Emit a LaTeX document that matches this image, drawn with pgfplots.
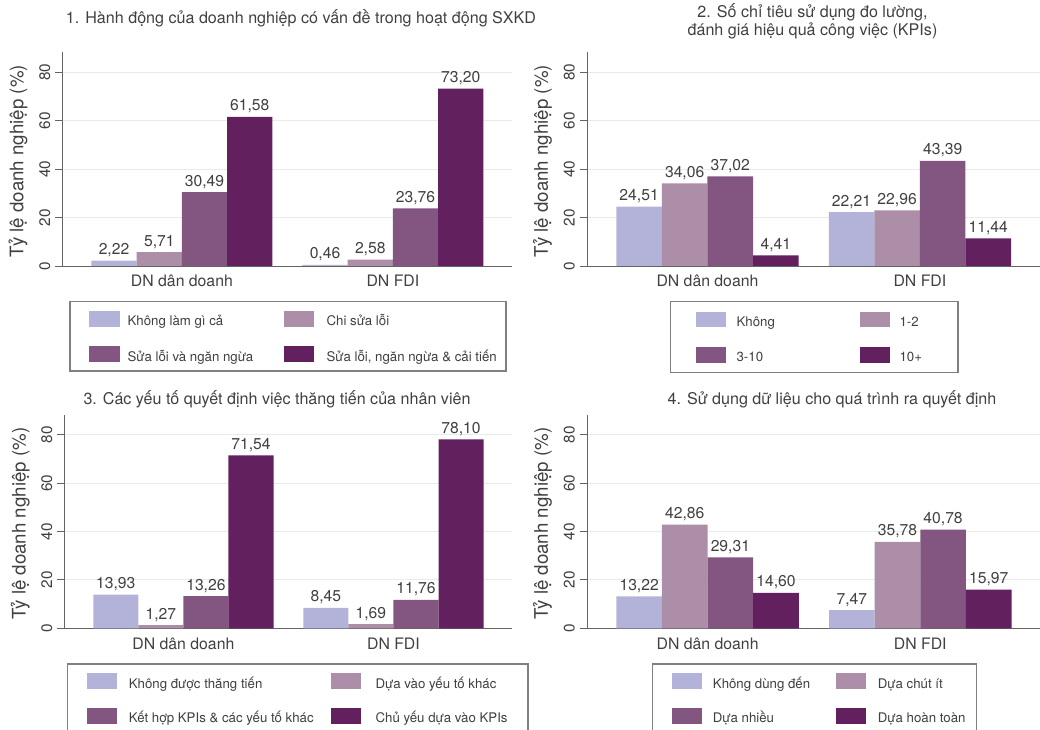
\documentclass[border=0pt]{standalone}
\usepackage{fontspec}
\setmainfont{TeX Gyre Heros}
\usepackage{pgfplots}
\pgfplotsset{compat=1.18}
\definecolor{cA}{RGB}{179,179,218}
\definecolor{cB}{RGB}{173,142,168}
\definecolor{cC}{RGB}{130,86,128}
\definecolor{cD}{RGB}{98,32,94}
\definecolor{txt}{RGB}{64,64,64}
\definecolor{axl}{RGB}{100,100,100}
\definecolor{grd}{RGB}{234,234,234}
\definecolor{lgb}{RGB}{128,128,128}
\newcommand\lgt[3]{\makebox[#1pt][l]{\hspace*{#2pt}\raisebox{0pt}[15.7pt][0pt]{#3}}}
\pgfplotsset{
 panel/.style={
  scale only axis, anchor=south west, clip=false,
  ybar, bar width=0.2145,
  legend image code/.code={\fill[##1] (0pt,-7.85pt) rectangle (30.7pt,7.85pt);},
  xmin=-0.567, xmax=1.563, ymin=0, ymax=88.2,
  axis x line*=bottom, axis y line*=left,
  axis line style={draw=axl, line width=0.9pt},
  xtick={0,1}, xticklabels={DN dân doanh, DN FDI},
  xtick style={draw=none},
  ytick={0,20,40,60,80}, yticklabels={0,20,40,60,80},
  ytick style={draw=axl, line width=0.9pt},
  tick align=outside, major tick length=7pt,
  ymajorgrids, grid style={draw=grd, line width=0.9pt},
  yticklabel style={font=\fontsize{15.3}{18}\selectfont, text=txt, inner sep=0pt, anchor=base, rotate=90},
  yticklabel shift=5.3pt,
  xticklabel style={font=\fontsize{15.8}{18}\selectfont, text=txt, inner sep=0pt, anchor=base},
  xticklabel shift=13.7pt,
  ylabel={Tỷ lệ doanh nghiệp (\%)},
  ylabel style={font=\fontsize{18.7}{22}\selectfont, text=txt, inner sep=0pt, anchor=base, at={(axis description cs:-0.0865,0.49)}},
  title style={font=\fontsize{16.1}{18}\selectfont, text=txt, inner sep=0pt, anchor=base},
  nodes near coords={\pgfmathprintnumber[fixed,fixed zerofill,precision=2,use comma,assume math mode=true]{\pgfplotspointmeta}},
  nodes near coords style={font=\fontsize{15.7}{18}\selectfont, text=txt, inner sep=0pt, anchor=base, yshift=6pt},
  legend columns=2, legend cell align=left,
  legend style={draw=lgb, line width=1.2pt, anchor=north west, column sep=0pt,
    nodes={inner sep=0pt, font=\fontsize{13.25}{16}\selectfont, text=txt}},
 },
 s1/.style={fill=cA, draw=none, bar shift=-0.32175},
 s2/.style={fill=cB, draw=none, bar shift=-0.10725},
 s3/.style={fill=cC, draw=none, bar shift=0.10725},
 s4/.style={fill=cD, draw=none, bar shift=0.32175},
}
\begin{document}
\begin{tikzpicture}
\useasboundingbox (0,0) rectangle (1040pt,729pt);
% Panel 1
\begin{axis}[panel, at={(62.3pt,463pt)}, width=449.4pt, height=213.7pt,
  title={1. Hành động của doanh nghiệp có vấn đề trong hoạt động SXKD},
  title style={at={(axis description cs:0.5312,1)}, yshift=23pt},
  legend style={at={(0.01558,-0.16378)}, inner xsep=19pt, inner ysep=8.5pt, row sep=18pt}]
\addplot[s1] coordinates {(0,2.22) (1,0.46)};
\addplot[s2] coordinates {(0,5.71) (1,2.58)};
\addplot[s3] coordinates {(0,30.49) (1,23.76)};
\addplot[s4] coordinates {(0,61.58) (1,73.20)};
\addlegendentry{\lgt{164}{8}{Không làm gì cả}}
\addlegendentry{\lgt{172.6}{12.3}{Chi sửa lỗi}}
\addlegendentry{\lgt{164}{8}{Sửa lỗi và ngăn ngừa}}
\addlegendentry{\lgt{172.6}{12.3}{Sửa lỗi, ngăn ngừa \& cải tiến}}
\end{axis}
% Panel 2
\begin{axis}[panel, at={(587pt,463pt)}, width=452.5pt, height=213.7pt,
  title={\begin{tabular}[b]{@{}c@{}}2. Số chỉ tiêu sử dụng đo lường,\\đánh giá hiệu quả công việc (KPIs)\end{tabular}},
  title style={at={(axis description cs:0.4983,1)}, yshift=11pt},
  legend style={at={(0.18343,-0.16378)}, inner xsep=25pt, inner ysep=9.3pt, row sep=18pt}]
\addplot[s1] coordinates {(0,24.51) (1,22.21)};
\addplot[s2] coordinates {(0,34.06) (1,22.96)};
\addplot[s3] coordinates {(0,37.02) (1,43.39)};
\addplot[s4] coordinates {(0,4.41) (1,11.44)};
\addlegendentry{\lgt{133.3}{10.3}{Không}}
\addlegendentry{\lgt{42.6}{9.3}{1-2}}
\addlegendentry{\lgt{133.3}{10.3}{3-10}}
\addlegendentry{\lgt{42.6}{9.3}{10+}}
\end{axis}
% Panel 3
\begin{axis}[panel, at={(64.3pt,100.7pt)}, width=447.4pt, height=213.3pt,
  title={3. Các yếu tố quyết định việc thăng tiến của nhân viên},
  title style={at={(axis description cs:0.4754,1)}, yshift=5pt},
  legend style={at={(0.00536,-0.16409)}, inner xsep=19.3pt, inner ysep=8.7pt, row sep=17.3pt}]
\addplot[s1] coordinates {(0,13.93) (1,8.45)};
\addplot[s2] coordinates {(0,1.27) (1,1.69)};
\addplot[s3] coordinates {(0,13.26) (1,11.76)};
\addplot[s4] coordinates {(0,71.54) (1,78.10)};
\addlegendentry{\lgt{213.3}{11.6}{Không được thăng tiến}}
\addlegendentry{\lgt{147.3}{14.3}{Dựa vào yếu tố khác}}
\addlegendentry{\lgt{213.3}{11.6}{Kết hợp KPIs \& các yếu tố khác}}
\addlegendentry{\lgt{147.3}{14.3}{Chủ yếu dựa vào KPIs}}
\end{axis}
% Panel 4
\begin{axis}[panel, at={(587pt,100.7pt)}, width=453pt, height=213.3pt,
  title={4. Sử dụng dữ liệu cho quá trình ra quyết định},
  title style={at={(axis description cs:0.5408,1)}, yshift=5pt},
  legend style={at={(0.14283,-0.16409)}, inner xsep=19.3pt, inner ysep=8.7pt, row sep=17.3pt}]
\addplot[s1] coordinates {(0,13.22) (1,7.47)};
\addplot[s2] coordinates {(0,42.86) (1,35.78)};
\addplot[s3] coordinates {(0,29.31) (1,40.78)};
\addplot[s4] coordinates {(0,14.60) (1,15.97)};
\addlegendentry{\lgt{133.3}{10.6}{Không dùng đến}}
\addlegendentry{\lgt{90.5}{11.6}{Dựa chút ít}}
\addlegendentry{\lgt{133.3}{10.6}{Dựa nhiều}}
\addlegendentry{\lgt{90.5}{11.6}{Dựa hoàn toàn}}
\end{axis}
\end{tikzpicture}
\end{document}
